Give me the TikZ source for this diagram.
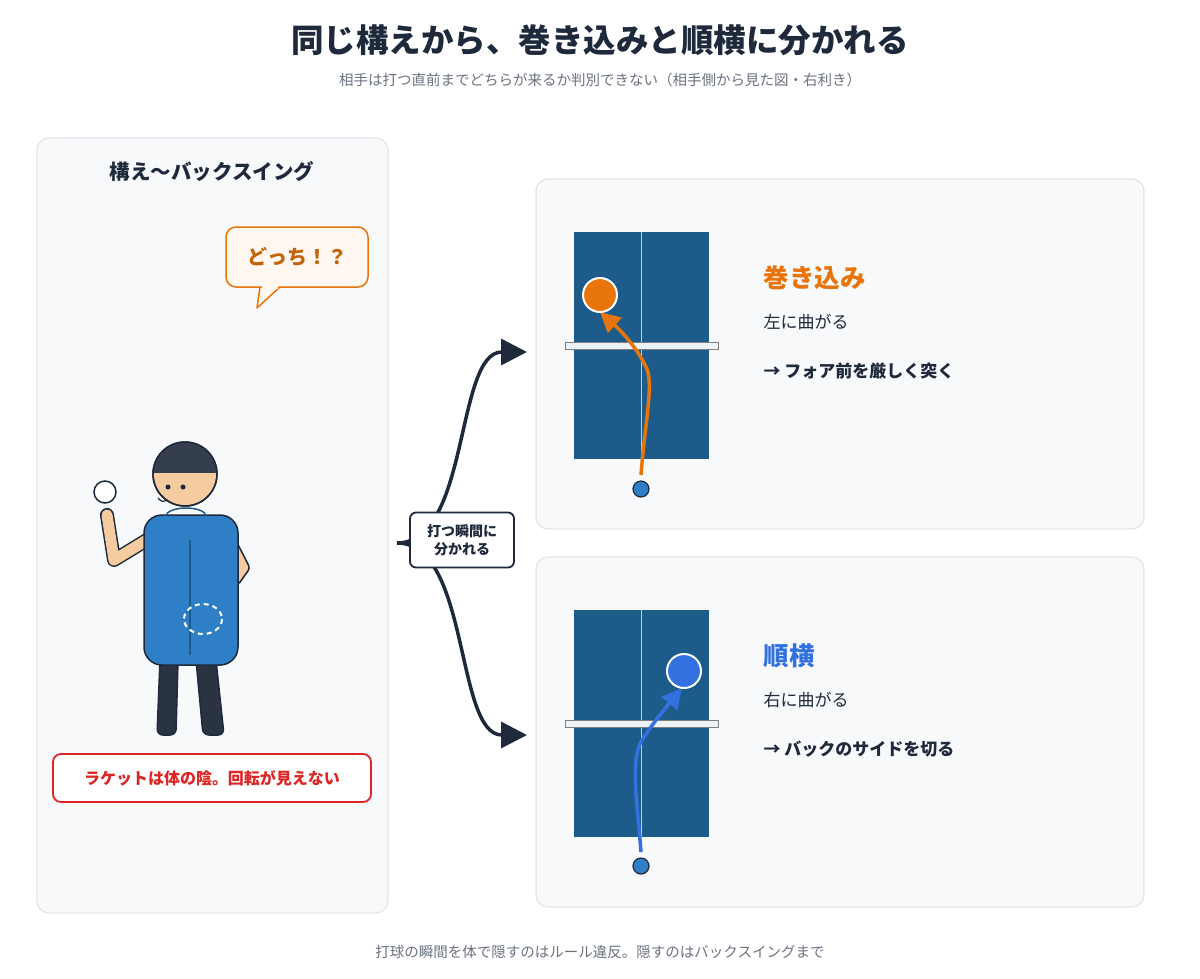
\documentclass[tikz,border=0pt]{standalone}
\usepackage{fontspec}
\setmainfont{Noto Sans CJK JP}
\usetikzlibrary{arrows.meta, positioning, calc}
\definecolor{ink}{HTML}{1E293B}
\definecolor{sub}{HTML}{6B7280}
\definecolor{panel}{HTML}{F8F9FB}
\definecolor{rim}{HTML}{E2E4E8}
\definecolor{orng}{HTML}{E8740C}
\definecolor{blu}{HTML}{3370E0}
\definecolor{shirt}{HTML}{2F7FC6}
\definecolor{tbl}{HTML}{1D5C8A}
\definecolor{skin}{HTML}{F5CBA0}
\definecolor{pants}{HTML}{2A3342}
\definecolor{alrt}{HTML}{DC2626}

\begin{document}
\begin{tikzpicture}[x=1pt, y=-1pt,
    panelbox/.style={draw=rim, fill=panel, line width=1.2pt, rounded corners=12pt},
    lbl/.style={anchor=west, text=ink, font=\fontsize{17}{21}\selectfont},
    side/.style={anchor=west, font=\fontsize{25.5}{30}\selectfont\bfseries},
    outl/.style={draw=ink, line width=1.5pt},
    shot/.style={line width=3.5pt, -{Triangle[length=20pt,width=20pt]}},
    fork/.style={ink, line width=3.5pt, -{Triangle[length=26pt,width=26pt]}}]
  \useasboundingbox (0,0) rectangle (1200,978);
  \fill[white] (0,0) rectangle (1200,978);
  % title
  \node[font=\fontsize{32.5}{38}\selectfont\bfseries, text=ink] (title) at (600,40)
    {同じ構えから、巻き込みと順横に分かれる};
  \node[font=\fontsize{14.5}{18}\selectfont, text=sub] (subtitle) at (600,80)
    {相手は打つ直前までどちらが来るか判別できない（相手側から見た図・右利き）};
  % left panel
  \draw[panelbox] (37,138) rectangle (388,913);
  \node[font=\fontsize{20.5}{24}\selectfont\bfseries, text=ink] (stance) at (212,172)
    {構え〜バックスイング};
  \draw[orng, fill=orange!6, line width=1.5pt, line join=round]
    (260,287) -- (257,308) -- (280,287);
  \draw[orng, fill=orange!6, line width=1.5pt, rounded corners=10pt]
    (226,227) rectangle (368,287);
  \fill[orange!6] (262,285) rectangle (278,289);
  \node[font=\fontsize{20}{24}\selectfont\bfseries, text=orng!85!black] (which) at (297,257)
    {どっち！？};
  % figure
  \draw[outl, fill=skin, rounded corners=3pt] (228,525) -- (250,568) -- (238,585) -- (230,570) -- cycle;
  \draw[line width=14pt, line cap=round, line join=round, ink] (107,515) -- (114,560) -- (160,532);
  \draw[line width=11pt, line cap=round, line join=round, skin] (107,515) -- (114,560) -- (160,532);
  \draw[outl, fill=white] (105,492) circle (11);
  \draw[outl, fill=pants, rounded corners=6pt] (160,660) -- (178,660) -- (176,735) -- (157,735) -- cycle;
  \draw[outl, fill=pants, rounded corners=6pt] (196,660) -- (216,660) -- (224,735) -- (203,735) -- cycle;
  \draw[outl, fill=shirt, rounded corners=18pt] (144,515) rectangle (238,665);
  \draw[tbl, line width=1.5pt] (166,516) arc (180:360:20 and 8);
  \draw[tbl, line width=1.5pt] (190,540) -- (190,655);
  \draw[white, line width=2pt, dash pattern=on 5pt off 4pt] (203,619) ellipse (19 and 15);
  \draw[outl, fill=skin] (185,474) circle (32);
  \begin{scope}
    \clip (185,474) circle (32);
    \fill[ink!90] (150,440) rectangle (220,473);
  \end{scope}
  \draw[outl] (185,474) circle (32);
  \fill[ink] (168,487) circle (2.5) (183,487) circle (2.5);
  \draw[ink, line width=1.2pt] (158,498) .. controls (162,502) .. (168,500);
  % hidden racket note
  \draw[alrt, fill=white, line width=1.8pt, rounded corners=8pt] (53,754) rectangle (371,802);
  \node[font=\fontsize{16}{20}\selectfont\bfseries, text=alrt] (hidden) at (212,778)
    {ラケットは体の陰。回転が見えない};
  % branch
  \coordinate (root) at (397,543);
  \coordinate (up) at (527,352);
  \coordinate (down) at (527,735);
  \draw[fork] (root) .. controls (470,543) and (455,352) .. (up);
  \draw[fork] (root) .. controls (470,543) and (455,735) .. (down);
  \node[draw=ink, fill=white, line width=1.8pt, rounded corners=6pt, align=center,
        font=\fontsize{14}{18}\selectfont\bfseries, text=ink, minimum width=104pt,
        minimum height=55pt] (moment) at (462,540) {打つ瞬間に\\分かれる};
  % right panels
  \draw[panelbox] (536,179) rectangle (1144,529);
  \draw[panelbox] (536,557) rectangle (1144,907);
  \foreach \t in {232,610}{
    \fill[tbl] (574,\t) rectangle (709,\t+227);
    \draw[white!70!tbl, line width=1pt] (641,\t) -- (641,\t+227);
    \draw[gray, fill=white!92!tbl, line width=1pt] (565,\t+110) rectangle (718,\t+117);
  }
  % wrap shot
  \draw[outl, fill=shirt, line width=1.2pt] (641,489) circle (8) node (startA) {};
  \draw[orng, shot] (641,475) .. controls (645,420) and (655,380) .. (645,365)
    .. controls (635,345) and (620,330) .. (600,312);
  \draw[white, fill=orng, line width=2pt] (600,295) circle (17);
  \node[side, text=orng] (wrap) at (760,278) {巻き込み};
  \node[lbl] (wrapa) at (760,322) {左に曲がる};
  \node[lbl, font=\fontsize{17}{21}\selectfont\bfseries] (wrapb) at (760,371) {→ フォア前を厳しく突く};
  % side shot
  \draw[outl, fill=shirt, line width=1.2pt] (641,866) circle (8);
  \draw[blu, shot] (641,852) .. controls (637,800) and (630,760) .. (642,740)
    .. controls (655,720) and (668,705) .. (682,688);
  \draw[white, fill=blu, line width=2pt] (684,671) circle (17);
  \node[side, text=blu] (junyoko) at (760,656) {順横};
  \node[lbl] (juna) at (760,700) {右に曲がる};
  \node[lbl, font=\fontsize{17}{21}\selectfont\bfseries] (junb) at (760,749) {→ バックのサイドを切る};
  % footer
  \node[font=\fontsize{14.5}{18}\selectfont, text=sub] (foot) at (600,952)
    {打球の瞬間を体で隠すのはルール違反。隠すのはバックスイングまで};
\end{tikzpicture}
\end{document}
